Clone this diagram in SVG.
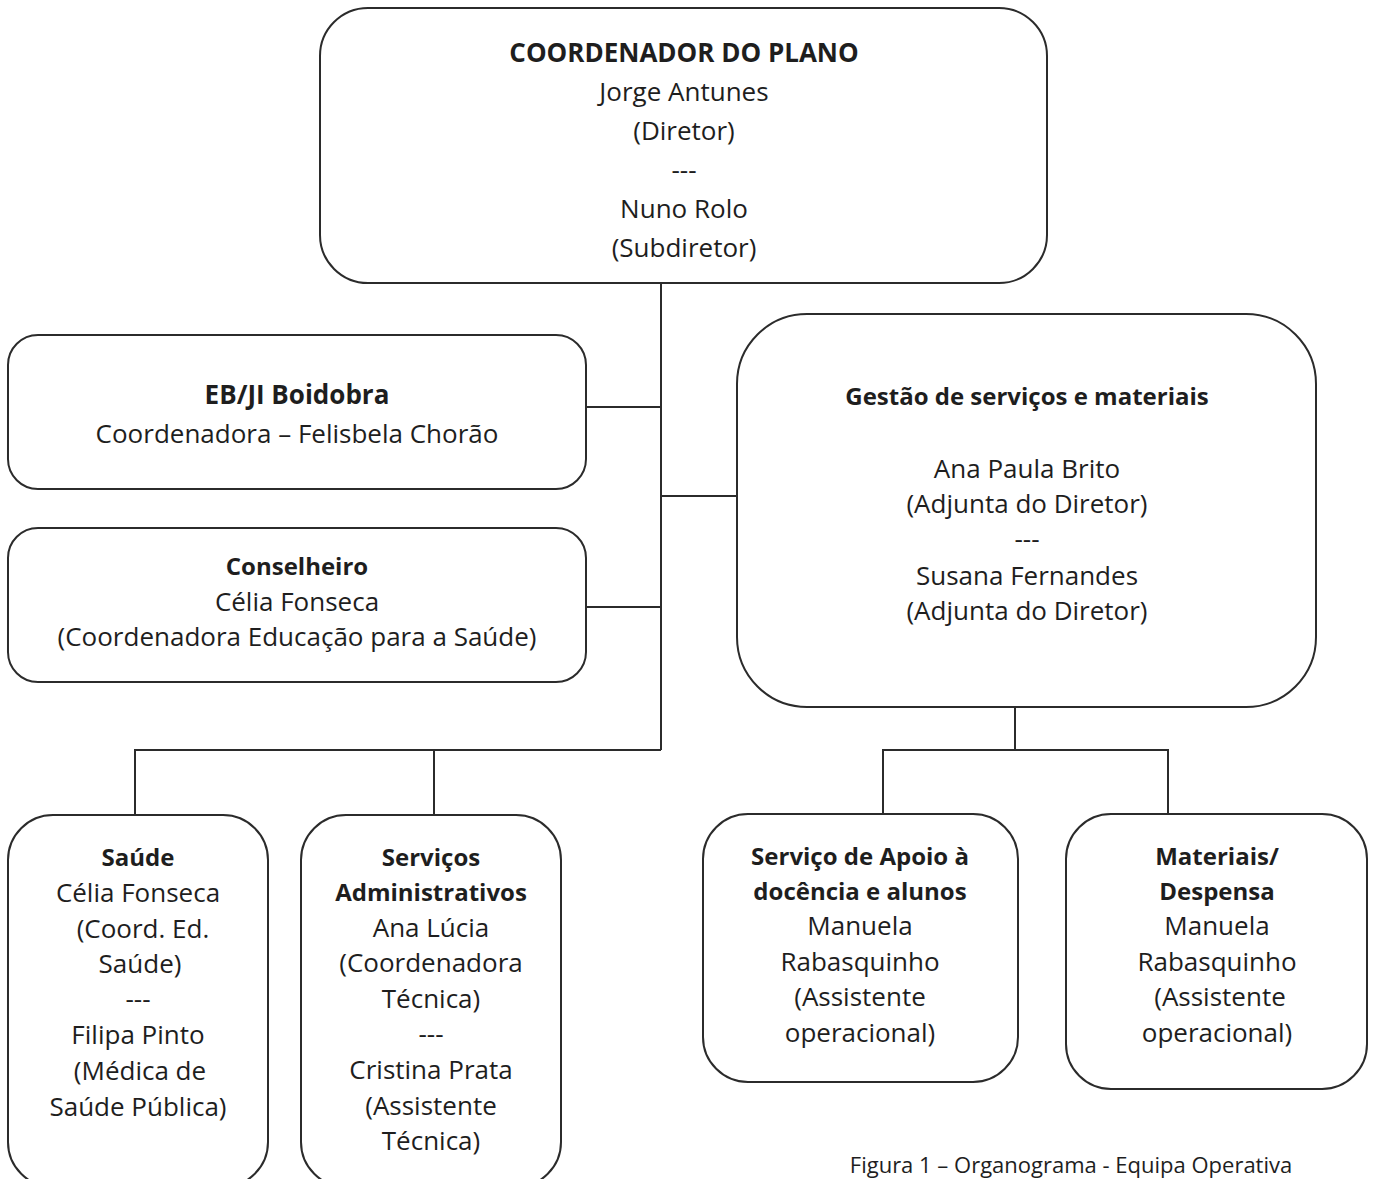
<svg xmlns="http://www.w3.org/2000/svg" width="1375" height="1179" viewBox="0 0 1375 1179">
  <style>
    .box { fill: #ffffff; stroke: #2b2b2b; stroke-width: 2; }
    .link { fill: none; stroke: #2b2b2b; stroke-width: 2; }
    text { font-family: "Open Sans", "Noto Sans", sans-serif; font-size: 26px; fill: #1e1e1e; text-anchor: middle; }
    .b { font-weight: bold; font-size: 24px; }
    .title { font-weight: bold; font-size: 26px; }
    .cap { font-size: 22px; }
  </style>
  <rect width="1375" height="1179" fill="#ffffff"/>

  <!-- connectors -->
  <g id="connectors">
    <path class="link" d="M661 283 V750"/>
    <path class="link" d="M586 407 H661"/>
    <path class="link" d="M661 496 H737"/>
    <path class="link" d="M586 607 H661"/>
    <path class="link" d="M135 815 V750 H661"/>
    <path class="link" d="M434 750 V815"/>
    <path class="link" d="M1015 707 V750"/>
    <path class="link" d="M883 814 V750 H1168 V814"/>
  </g>

  <g id="coordenador">
    <rect class="box" x="320" y="8" width="727" height="275" rx="48" ry="48"/>
    <text class="title" x="684" y="62">COORDENADOR DO PLANO</text>
    <text x="684" y="101">Jorge Antunes</text>
    <text x="684" y="140">(Diretor)</text>
    <text x="684" y="179">---</text>
    <text x="684" y="218">Nuno Rolo</text>
    <text x="684" y="257">(Subdiretor)</text>
  </g>

  <g id="eb-ji">
    <rect class="box" x="8" y="335" width="578" height="154" rx="30" ry="30"/>
    <text class="title" x="297" y="404">EB/JI Boidobra</text>
    <text x="297" y="443">Coordenadora – Felisbela Chorão</text>
  </g>

  <g id="conselheiro">
    <rect class="box" x="8" y="528" width="578" height="154" rx="30" ry="30"/>
    <text class="b" x="297" y="575">Conselheiro</text>
    <text x="297" y="611">Célia Fonseca</text>
    <text x="297" y="646">(Coordenadora Educação para a Saúde)</text>
  </g>

  <g id="gestao">
    <rect class="box" x="737" y="314" width="579" height="393" rx="70" ry="70"/>
    <text class="b" x="1027" y="405">Gestão de serviços e materiais</text>
    <text x="1027" y="478">Ana Paula Brito</text>
    <text x="1027" y="513">(Adjunta do Diretor)</text>
    <text x="1027" y="548">---</text>
    <text x="1027" y="585">Susana Fernandes</text>
    <text x="1027" y="620">(Adjunta do Diretor)</text>
  </g>

  <g id="saude">
    <rect class="box" x="8" y="815" width="260" height="372" rx="45" ry="45"/>
    <text class="b" x="138" y="866">Saúde</text>
    <text x="138" y="902">Célia Fonseca</text>
    <text x="143" y="938">(Coord. Ed.</text>
    <text x="140" y="973">Saúde)</text>
    <text x="138" y="1008">---</text>
    <text x="138" y="1044">Filipa Pinto</text>
    <text x="140" y="1080">(Médica de</text>
    <text x="138" y="1116">Saúde Pública)</text>
  </g>

  <g id="servicos-administrativos">
    <rect class="box" x="301" y="815" width="260" height="372" rx="45" ry="45"/>
    <text class="b" x="431" y="866">Serviços</text>
    <text class="b" x="431" y="901">Administrativos</text>
    <text x="431" y="937">Ana Lúcia</text>
    <text x="431" y="972">(Coordenadora</text>
    <text x="431" y="1008">Técnica)</text>
    <text x="431" y="1043">---</text>
    <text x="431" y="1079">Cristina Prata</text>
    <text x="431" y="1115">(Assistente</text>
    <text x="431" y="1150">Técnica)</text>
  </g>

  <g id="apoio-docencia">
    <rect class="box" x="703" y="814" width="315" height="268" rx="45" ry="45"/>
    <text class="b" x="860" y="865">Serviço de Apoio à</text>
    <text class="b" x="860" y="900">docência e alunos</text>
    <text x="860" y="935">Manuela</text>
    <text x="860" y="971">Rabasquinho</text>
    <text x="860" y="1006">(Assistente</text>
    <text x="860" y="1042">operacional)</text>
  </g>

  <g id="materiais">
    <rect class="box" x="1066" y="814" width="301" height="275" rx="45" ry="45"/>
    <text class="b" x="1217" y="865">Materiais/</text>
    <text class="b" x="1217" y="900">Despensa</text>
    <text x="1217" y="935">Manuela</text>
    <text x="1217" y="971">Rabasquinho</text>
    <text x="1220" y="1006">(Assistente</text>
    <text x="1217" y="1042">operacional)</text>
  </g>

  <text class="cap" x="1071" y="1173">Figura 1 – Organograma - Equipa Operativa</text>
</svg>
